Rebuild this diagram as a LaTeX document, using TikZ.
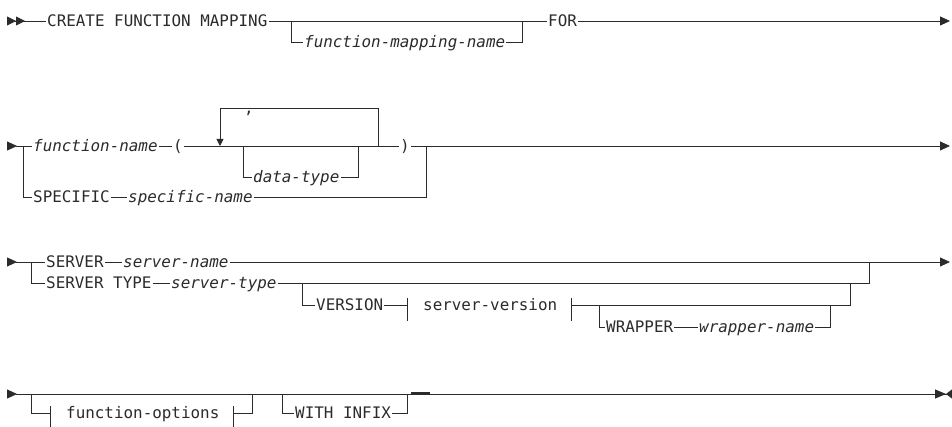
\documentclass[tikz,border=0pt]{standalone}
\usepackage{fontspec}
\setmonofont{DejaVu Sans Mono}
\usepackage{tikz}
\usetikzlibrary{arrows.meta,calc}
\definecolor{railInk}{HTML}{2B2B2B}
\newcommand\railfont{\ttfamily\fontsize{15.9}{18}\selectfont}
% tick marks of a fragment reference
\newcommand\fragtick[1]{\draw[rail] (#1) ++(0,-7) -- ++(0,23);}

\begin{document}
\begin{tikzpicture}[
    x=1pt, y=-1pt,
    every node/.style = {font=\railfont, text=railInk, inner xsep=1pt, inner ysep=0pt,
                         text height=11.6pt, text depth=0pt, anchor=west},
    kw/.style         = {},
    var/.style        = {font=\railfont\itshape},
    rail/.style       = {draw=railInk, line width=0.8pt},
    railarrow/.style  = {rail, -{Triangle[length=10pt,width=9pt]}},
    railstart/.style  = {rail, {Triangle[reversed,length=10pt,width=9pt]}-},
    railfirst/.style  = {rail, {Triangle[reversed,length=9pt,width=9pt]Triangle[reversed,length=9pt,width=9pt]}-},
    raillast/.style   = {rail, {Triangle[reversed,length=10pt,width=9pt]}-{Triangle[length=11pt,width=9pt]Triangle[reversed,length=6pt,width=9pt]}},
    looparrow/.style  = {rail, -{Triangle[length=7pt,width=7pt]}},
  ]
  \useasboundingbox (0,0) rectangle (952,427);

  %% Row 1: CREATE FUNCTION MAPPING (y = 21)
  \node[kw]  (create) at (46,21)  {CREATE FUNCTION MAPPING};
  \node[var] (fmname) at (303,42) {function-mapping-name};
  \node[kw]  (for)    at (547,21) {FOR};
  \coordinate (r1start) at (7,21);
  \coordinate (r1end)   at (950,21);
  \coordinate (fmin)    at (291,21);
  \coordinate (fmout)   at (522,21);

  \draw[railfirst] (r1start) -- (create.west);
  \draw[rail] (create.east) -- (for.west);
  \draw[railarrow] (for.east) -- (r1end);
  \draw[rail] (fmin) |- (fmname.west);
  \draw[rail] (fmname.east) -| (fmout);

  %% Row 2: function name with repeated data types (y = 146)
  \node[var] (fname)    at (32,146)  {function-name};
  \node[kw]  (lpar)     at (172,146) {(};
  \node[kw]  (sep)      at (243,108) {,};
  \node[var] (dtype)    at (252,177) {data-type};
  \node[kw]  (rpar)     at (399,146) {)};
  \node[kw]  (spec)     at (32,197)  {SPECIFIC};
  \node[var] (specname) at (127,197) {specific-name};
  \coordinate (r2start)  at (7,146);
  \coordinate (r2end)    at (950,146);
  \coordinate (r2in)     at (23,146);
  \coordinate (r2join)   at (426,146);
  \coordinate (loopin)   at (220,146);
  \coordinate (loopout)  at (378,146);
  \coordinate (looptopL) at (220,108);
  \coordinate (looptopR) at (378,108);
  \coordinate (dtin)     at (243,146);
  \coordinate (dtout)    at (358,146);

  \draw[railstart] (r2start) -- (fname.west);
  \draw[rail] (fname.east) -- (lpar.west);
  \draw[rail] (lpar.east) -- (rpar.west);
  \draw[railarrow] (rpar.east) -- (r2end);
  \draw[looparrow] (loopout) -- (looptopR) -- (looptopL) -- (loopin);
  \draw[rail] (dtin) |- (dtype.west);
  \draw[rail] (dtype.east) -| (dtout);
  \draw[rail] (r2in) |- (spec.west);
  \draw[rail] (spec.east) -- (specname.west);
  \draw[rail] (specname.east) -| (r2join);

  %% Row 3: SERVER / SERVER TYPE (y = 262)
  \node[kw]  (server)     at (45,262)  {SERVER};
  \node[var] (srvname)    at (122,262) {server-name};
  \node[kw]  (srvtype)    at (45,283)  {SERVER TYPE};
  \node[var] (srvtypenm)  at (170,283) {server-type};
  \node[kw]  (version)    at (315,305) {VERSION};
  \node[kw]  (srvversion) at (422,305) {server-version};
  \node[kw]  (wrapper)    at (605,327) {WRAPPER};
  \node[var] (wrapname)   at (698,327) {wrapper-name};
  \coordinate (r3start) at (7,262);
  \coordinate (r3end)   at (950,262);
  \coordinate (r3in)    at (31,262);
  \coordinate (r3join)  at (869,262);
  \coordinate (vin)     at (302,283);
  \coordinate (vout)    at (850,283);
  \coordinate (vtickL)  at (407,305);
  \coordinate (vtickR)  at (571,305);
  \coordinate (win)     at (599,305);
  \coordinate (wout)    at (830,305);

  \draw[railstart] (r3start) -- (server.west);
  \draw[rail] (server.east) -- (srvname.west);
  \draw[railarrow] (srvname.east) -- (r3end);
  \draw[rail] (r3in) |- (srvtype.west);
  \draw[rail] (srvtype.east) -- (srvtypenm.west);
  \draw[rail] (srvtypenm.east) -| (r3join);
  \draw[rail] (vin) |- (version.west);
  \draw[rail] (version.east) -- (vtickL);
  \fragtick{vtickL}
  \fragtick{vtickR}
  \draw[rail] (vtickR) -| (vout);
  \draw[rail] (win) |- (wrapper.west);
  \draw[rail] (wrapper.east) -- (wrapname.west);
  \draw[rail] (wrapname.east) -| (wout);

  %% Row 4: options and end of statement (y = 394)
  \node[kw] (fopts) at (65,413)  {function-options};
  \node[kw] (infix) at (294,413) {WITH INFIX};
  \coordinate (r4start) at (7,394);
  \coordinate (r4end)   at (952,394);
  \coordinate (r4in)    at (31,394);
  \coordinate (ftickL)  at (50,413);
  \coordinate (ftickR)  at (233,413);
  \coordinate (fout)    at (252,394);
  \coordinate (wiin)    at (282,394);
  \coordinate (wiout)   at (407,394);
  \coordinate (dashL)   at (411,393);
  \coordinate (dashR)   at (430,393);

  \draw[raillast] (r4start) -- (r4end);
  \draw[rail] (r4in) |- (ftickL);
  \fragtick{ftickL}
  \fragtick{ftickR}
  \draw[rail] (ftickR) -| (fout);
  \draw[rail] (wiin) |- (infix.west);
  \draw[rail] (infix.east) -| (wiout);
  \draw[rail, line width=1.6pt] (dashL) -- (dashR);

\end{tikzpicture}
\end{document}
